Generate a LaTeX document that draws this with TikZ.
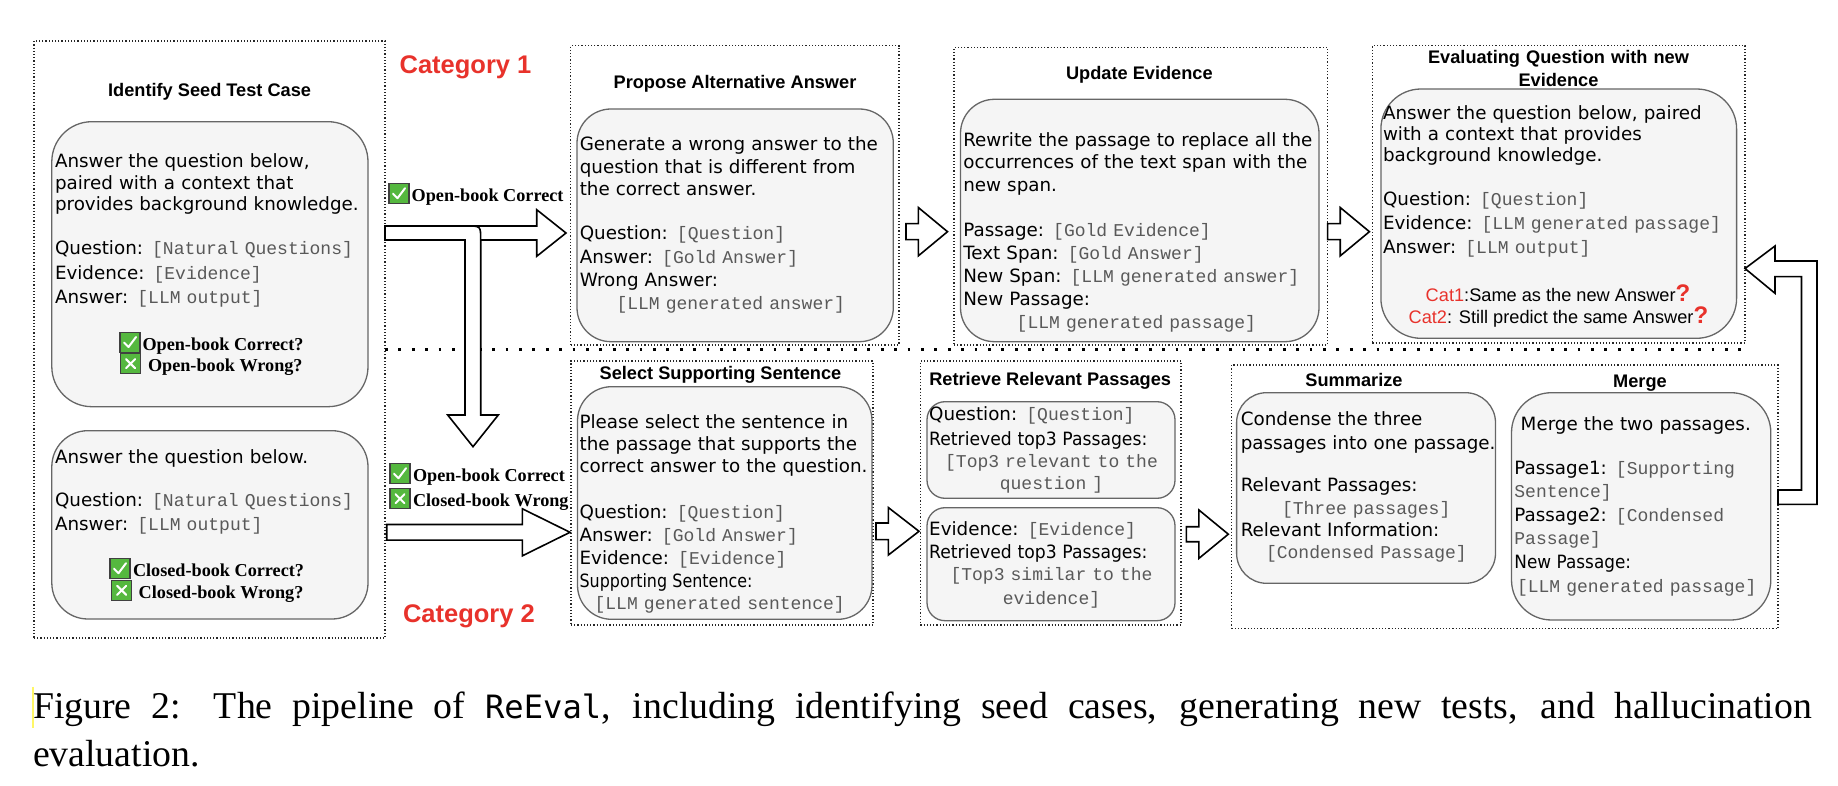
\documentclass[tikz,border=0pt]{standalone}
\usepackage{fontspec}
\usepackage{graphicx}
\setmainfont{Liberation Serif}
\newfontfamily\bodyfont{DejaVu Sans}
\newfontfamily\headfont{Liberation Sans}
\newfontfamily\fieldfont[Scale=0.985]{Liberation Mono}
\newfontfamily\codefont[Scale=0.85]{DejaVu Sans Mono}
\usetikzlibrary{calc,fit}
\definecolor{cardfill}{HTML}{F5F5F5}
\definecolor{cardline}{HTML}{666666}
\definecolor{fieldgray}{HTML}{595959}
\definecolor{catred}{HTML}{E8322B}
\definecolor{okgreen}{HTML}{55B83F}
\newcommand{\fld}[1]{{\fieldfont\color{fieldgray}#1}}
\newcommand{\squeeze}[2][0.94]{\scalebox{#1}[1]{#2}}
\newcommand{\qmark}{{\headfont\bfseries\fontsize{12}{12}\selectfont\color{catred}?}}
% block arrow: tail, tip, shaft half width, head half width, head length
\newcommand{\fatarrow}[5]{%
  \draw[blockarrow] let \p1=#1, \p2=#2 in
    (\x1,\y1+#3) -- (\x2-#5,\y1+#3) -- (\x2-#5,\y1+#4) -- (\x2,\y1)
    -- (\x2-#5,\y1-#4) -- (\x2-#5,\y1-#3) -- (\x1,\y1-#3) -- cycle;}
\tikzset{
  every node/.style={inner sep=0pt, outer sep=0pt},
  stagebox/.style={draw=black!85, line width=0.6pt, dash pattern=on 0.6pt off 1pt},
  card/.style={draw=cardline, fill=cardfill, line width=0.65pt, rounded corners=#1},
  card/.default=17pt,
  stagetitle/.style={anchor=base, align=center, font=\headfont\bfseries\fontsize{9.1}{11.7}\selectfont},
  catlabel/.style={anchor=base west, text=catred, font=\headfont\bfseries\fontsize{12.75}{14}\selectfont},
  prose/.style={anchor=base west, text width=200pt, align=left, font=\bodyfont\fontsize{9.15}{#1}\selectfont},
  prose/.default=10.9pt,
  fields/.style={anchor=base west, text width=200pt, align=left, font=\bodyfont\fontsize{9.15}{#1}\selectfont},
  fields/.default=11.6pt,
  hitlist/.style={anchor=base, text width=130pt, align=center, text=fieldgray, font=\fieldfont\fontsize{9.15}{#1}\selectfont},
  hitlist/.default=11pt,
  checklbl/.style={anchor=base west, font=\bfseries\fontsize{9.1}{10}\selectfont},
  verdict/.style={anchor=base, font=\headfont\fontsize{9.1}{11}\selectfont},
  blockarrow/.style={draw=black, fill=white, line width=0.8pt, line join=miter},
  divider/.style={draw=black, line width=1.4pt, dash pattern=on 1.4pt off 5.3pt},
  markbox/.style={fill=okgreen, draw=black!75, line width=0.7pt},
  markline/.style={draw=white, line width=1pt, line cap=round, line join=round},
  okmark/.pic={\draw[markbox] (-20,2) rectangle (0,-18);
    \draw[markline] (-16,-8) -- (-11.5,-3.5) -- (-4,-13.5);},
  nomark/.pic={\draw[markbox] (-20,2) rectangle (0,-18);
    \draw[markline] (-14.5,-12.5) -- (-5.5,-3.5) (-14.5,-3.5) -- (-5.5,-12.5);}
}
\begin{document}
\begin{tikzpicture}[x=0.5pt,y=-0.5pt]
\useasboundingbox (0,0) rectangle (1838,786);

% stages
\node[stagebox, fit={(34,41) (385,638)}] (seedbox) {};
\node[stagebox, fit={(570.7,45.7) (899,345)}] (proposebox) {};
\node[stagebox, fit={(954,47.3) (1327.6,345)}] (updatebox) {};
\node[stagebox, fit={(1372.4,45.7) (1745,343)}] (evalbox) {};
\node[stagebox, fit={(571,361) (873,625)}] (selectbox) {};
\node[stagebox, fit={(920.3,361) (1181,625)}] (retrievebox) {};
\node[stagebox, fit={(1231.6,365) (1778,628.7)}] (flowbox) {};
\draw[divider] (seedbox.east |- 0,349.5) -- (evalbox.east |- 0,349.5);

% cards
\node[card=20pt, fit={(51.8,121.7) (368,406.7)}] (seedcardA) {};
\node[card=18pt, fit={(51.8,430.7) (368,619)}] (seedcardB) {};
\node[card, fit={(577,109) (893.3,341.7)}] (proposecard) {};
\node[card, fit={(960.5,99.3) (1319,341.7)}] (updatecard) {};
\node[card=20pt, fit={(1380.9,89) (1736.6,338.3)}] (evalcard) {};
\node[card, fit={(577.5,386.7) (872,619.3)}] (selectcard) {};
\node[card=9pt, fit={(927,401.7) (1175,498.3)}] (hitcardA) {};
\node[card=9pt, fit={(927,507.7) (1175,620.7)}] (hitcardB) {};
\node[card=15pt, fit={(1236.6,392.7) (1495.5,583.3)}] (summcard) {};
\node[card=20pt, fit={(1511.5,392.7) (1770.8,620)}] (mergecard) {};

% titles
\node[stagetitle] (seedtitle) at (209.6,96.7) {Identify Seed Test Case};
\node[stagetitle] (proposetitle) at (735,88.3) {Propose Alternative Answer};
\node[stagetitle] (updatetitle) at (1139.4,79.3) {Update Evidence};
\node[stagetitle, text width=200pt] (evaltitle) at (1558.5,63.3) {Evaluating Question with new\\Evidence};
\node[stagetitle] (selecttitle) at (720.5,379.3) {Select Supporting Sentence};
\node[stagetitle] (retrievetitle) at (1050.2,386) {Retrieve Relevant Passages};
\node[stagetitle] (summtitle) at (1354,386.7) {Summarize};
\node[stagetitle] (mergetitle) at (1640,387) {Merge};
\node[catlabel] (catone) at (399.6,74) {Category 1};
\node[catlabel] (cattwo) at (403,622.7) {Category 2};

% arrows
\fatarrow{(seedbox.east |- 0,233)}{($(proposebox.west |- 0,233)+(-4.7,0)$)}{3.5pt}{11.65pt}{14.65pt}
\draw[blockarrow] (seedbox.east |- 0,226) -- (467,226) .. controls (480.7,226) .. (480.7,240)
  -- (480.7,415) -- (498.3,415) -- (473,446.7) -- (447.7,415) -- (465,415) -- (465,240)
  -- (seedbox.east |- 0,240) -- cycle;
\fatarrow{($(seedbox.east |- 0,532.3)+(1.7,0)$)}{($(selectbox.west |- 0,532.3)+(-1,0)$)}{3.9pt}{11.75pt}{23.8pt}
\fatarrow{($(proposebox.east |- 0,231.7)+(7,0)$)}{($(updatebox.west |- 0,231.7)+(-6.5,0)$)}{4pt}{12.1pt}{14.6pt}
\fatarrow{(updatebox.east |- 0,231.7)}{($(evalbox.west |- 0,231.7)+(-3,0)$)}{4pt}{12.1pt}{14.6pt}
\fatarrow{($(selectbox.east |- 0,531.3)+(3,0)$)}{($(retrievebox.west |- 0,531.3)+(-1.3,0)$)}{4.15pt}{11.85pt}{15.3pt}
\fatarrow{($(retrievebox.east |- 0,534.2)+(5.3,0)$)}{($(flowbox.west |- 0,534.2)+(-3.3,0)$)}{3.75pt}{12.1pt}{14.7pt}
\draw[blockarrow] (flowbox.east |- 0,490) -- (1801.5,490) -- (1801.5,276.7) -- (1775,276.7)
  -- (1775,293.3) -- (evalbox.east |- 0,268.5) -- (1775,246) -- (1775,261) -- (1817,261)
  -- (1817,504.3) -- (flowbox.east |- 0,504.3) -- cycle;

% arrow labels
\node[checklbl] (toplbl) at (411.7,201.7) {Open-book Correct};
\node[checklbl] (lowlblA) at (413,481.7) {Open-book Correct};
\node[checklbl] (lowlblB) at (413,506.7) {Closed-book Wrong};
\pic at ([xshift=-1.35pt]toplbl.base west) {okmark};
\pic at ([xshift=-1.5pt]lowlblA.base west) {okmark};
\pic at ([xshift=-1.5pt]lowlblB.base west) {nomark};

% identify seed test case
\node[prose] (seedtaskA) at (55,167.3) {Answer the question below,\\paired with a context that\\provides background knowledge.};
\node[fields=12.1pt] (seedfieldsA) at (55,255) {Question: \fld{[Natural Questions]}\\Evidence: \fld{[Evidence]}\\Answer: \fld{[LLM output]}};
\node[checklbl] (openok) at (142.5,350.5) {Open-book Correct?};
\node[checklbl] (openno) at (148,371.7) {Open-book Wrong?};
\pic at ([xshift=-1.25pt]openok.base west) {okmark};
\pic at ([xshift=-3.7pt]openno.base west) {nomark};
\node[prose] (seedtaskB) at (55,463.3) {Answer the question below.};
\node[fields=11.65pt] (seedfieldsB) at (55,506.7) {Question: \fld{[Natural Questions]}\\Answer: \fld{[LLM output]}};
\node[checklbl] (closedok) at (133,576.7) {Closed-book Correct?};
\node[checklbl] (closedno) at (138.7,598.3) {Closed-book Wrong?};
\pic at ([xshift=-1.5pt]closedok.base west) {okmark};
\pic at ([xshift=-3.5pt]closedno.base west) {nomark};

% category 1 prompts
\node[prose=11.25pt] (proposetask) at (579.8,150.7) {Generate a wrong answer to the\\question that is different from\\the correct answer.};
\node[fields=11.55pt] (proposefields) at (579.8,240) {Question: \fld{[Question]}\\Answer: \fld{[Gold Answer]}\\Wrong Answer:\\\hspace*{18.35pt}\fld{[LLM generated answer]}};
\node[prose=11.1pt] (updatetask) at (963.3,146.7) {Rewrite the passage to replace all the\\occurrences of the text span with the\\new span.};
\node[fields=11.45pt] (updatefields) at (963.3,236.7) {Passage: \fld{[Gold Evidence]}\\Text Span: \fld{[Gold Answer]}\\New Span: \fld{[LLM generated answer]}\\New Passage:\\\hspace*{26.7pt}\fld{[LLM generated passage]}};
\node[prose=10.6pt] (evaltask) at (1383,119.3) {Answer the question below, paired\\with a context that provides\\background knowledge.};
\node[fields=12pt] (evalfields) at (1383,206) {Question: \fld{[Question]}\\Evidence: \fld{[LLM generated passage]}\\Answer: \fld{[LLM output]}};
\node[verdict] (catA) at (1558,301.7) {\textcolor{catred}{Cat1}:Same as the new Answer\qmark};
\node[verdict] (catB) at (1558.4,323.3) {\textcolor{catred}{Cat2}: Still predict the same Answer\qmark};

% category 2 prompts
\node[prose=11.1pt] (selecttask) at (579.6,428.3) {Please select the sentence in\\the passage that supports the\\correct answer to the question.};
\node[fields=11.45pt] (selectfields) at (579.6,518.3) {Question: \fld{[Question]}\\Answer: \fld{[Gold Answer]}\\Evidence: \fld{[Evidence]}\\\squeeze[0.87]{Supporting Sentence:}\\\hspace*{7.5pt}\fld{[LLM generated sentence]}};
\node[fields=12.5pt] (hitsA) at (929.2,421) {Question: \fld{[Question]}\\\squeeze{Retrieved top3 Passages:}};
\node[hitlist] (hitlistA) at (1051.5,467.3) {[Top3 relevant to the\\question ]};
\node[fields=11.65pt] (hitsB) at (929.2,535) {Evidence: \fld{[Evidence]}\\\squeeze{Retrieved top3 Passages:}};
\node[hitlist=11.65pt] (hitlistB) at (1051.5,580.7) {[Top3 similar to the\\evidence]};
\node[prose=11.65pt] (summtask) at (1240.8,426) {Condense the three\\passages into one passage.};
\node[fields=11.2pt] (summfields) at (1240.8,491.7) {Relevant Passages:\\\hspace*{20.6pt}\fld{[Three passages]}\\Relevant Information:\\\hspace*{12.6pt}\fld{[Condensed Passage]}};
\node[prose] (mergetask) at (1520.7,430) {Merge the two passages.};
\node[fields=11.8pt] (mergefields) at (1514.4,474) {Passage1: \fld{[Supporting}\\\fld{Sentence]}\\Passage2: \fld{[Condensed}\\\fld{Passage]}\\\squeeze[0.92]{New Passage:}\\\hspace*{1.3pt}\fld{[LLM generated passage]}};

% caption
\draw[yellow!60, line width=0.6pt] (33,686.7) -- (33,728);
\node[anchor=base west, text width=889.5pt, align=justify, font=\fontsize{18.9}{24}\selectfont] (caption) at (33,718.3)
  {\tolerance=10000\hyphenpenalty=10000 Figure 2: The pipeline of {\codefont ReEval}, including identifying seed cases, generating new tests, and hallucination\linebreak evaluation.};
\end{tikzpicture}
\end{document}
